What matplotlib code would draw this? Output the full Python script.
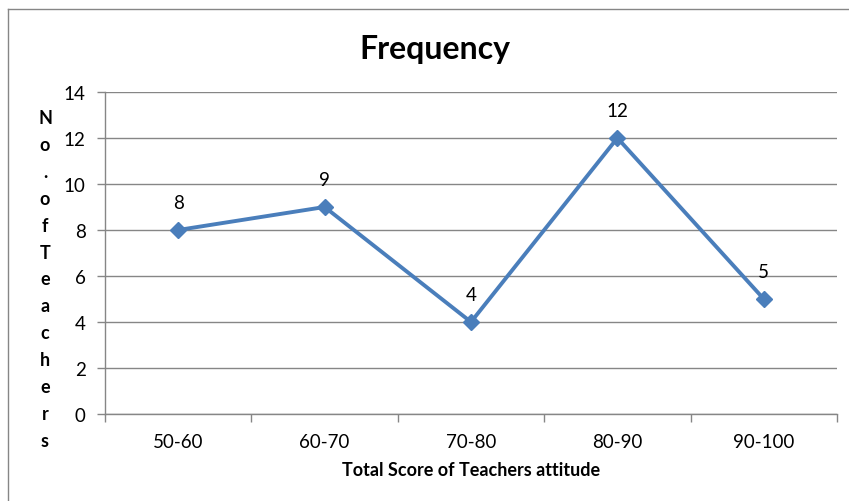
import matplotlib
matplotlib.use("Agg")
import matplotlib.pyplot as plt
from matplotlib.lines import Line2D

categories = ["50-60", "60-70", "70-80", "80-90", "90-100"]
values = [8, 9, 4, 12, 5]
yticks = [0, 2, 4, 6, 8, 10, 12, 14]
title = "Frequency"
xlabel = "Total Score of Teachers attitude"
ylabel = "No.ofTeachers"

plt.rcParams['font.family'] = ['Lato', 'DejaVu Sans']

W, H = 849, 502
fig = plt.figure(figsize=(W / 100, H / 100), dpi=100)
ax = fig.add_axes([105 / W, 1 - 415 / H, (837 - 105) / W, (415 - 93) / H])

x = list(range(len(categories)))
ax.plot(x, values, color="#4a7ebb", lw=2.8, marker="D", ms=8.5,
        markerfacecolor="#4a7ebb", markeredgecolor="#4a7ebb", zorder=3,
        clip_on=False)
for xi, v in zip(x, values):
    ax.annotate(str(v), (xi, v), xytext=(0, 13.5), textcoords="offset points",
                ha="center", va="bottom", fontsize=13.5, color="black")

ax.set_xlim(-0.5, len(categories) - 0.5)
ax.set_ylim(0, 14)
ax.set_yticks(yticks)
ax.set_yticklabels([str(t) for t in yticks], fontsize=13.5)
ax.set_xticks(x)
ax.set_xticklabels(categories, fontsize=13.5)
ax.tick_params(axis="x", which="major", length=0, pad=14)
ax.set_xticks([i - 0.5 for i in range(len(categories) + 1)], minor=True)
ax.tick_params(axis="x", which="minor", length=6, color="#868686", width=1)
ax.tick_params(axis="y", length=6, color="#868686", width=1, pad=8)
ax.grid(axis="y", color="#868686", lw=1)
ax.set_axisbelow(True)
for s in ["top", "right"]:
    ax.spines[s].set_visible(False)
for s in ["left", "bottom"]:
    ax.spines[s].set_color("#868686")
    ax.spines[s].set_linewidth(1)

fig.text(435 / W, 1 - 50 / H, title, ha="center", va="center",
         fontsize=23, fontweight="bold")
fig.text(471 / W, 1 - 471 / H, xlabel, ha="center", va="center",
         fontsize=13, fontweight="bold")
fig.text(45 / W, 1 - 280 / H, "\n".join(ylabel), ha="center", va="center",
         fontsize=13, fontweight="bold", linespacing=1.71)

# chart border (left and top visible)
fig.add_artist(Line2D([8 / W, 8 / W], [0, 1 - 10 / H], color="#868686",
                      lw=1, transform=fig.transFigure))
fig.add_artist(Line2D([8 / W, 1], [1 - 10 / H, 1 - 10 / H], color="#868686",
                      lw=1, transform=fig.transFigure))

fig.savefig("out.png", dpi=100)
